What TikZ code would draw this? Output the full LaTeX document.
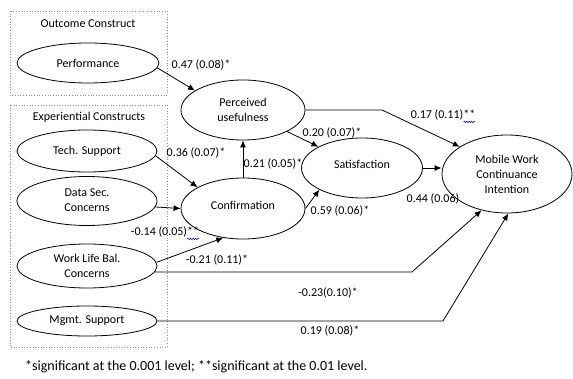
\documentclass[tikz,border=0pt]{standalone}
\usepackage{fontspec}
\setmainfont{Carlito}
\usetikzlibrary{shapes.geometric,arrows.meta,decorations.pathmorphing,calc}
\begin{document}
\begin{tikzpicture}[x=1pt,y=-1pt,
  ell/.style={draw, ellipse, inner sep=0pt, align=center, line width=0.8pt, font=\fontsize{12}{15}\selectfont},
  lbl/.style={inner sep=0pt, font=\fontsize{12}{15}\selectfont},
  arr/.style={line width=0.8pt, -{Latex[length=7pt,width=6pt]}},
  grp/.style={draw=black!45, dotted, line width=0.7pt},
  squig/.style={draw=blue!70!black, line width=0.5pt, decorate, decoration={snake, amplitude=0.8pt, segment length=2.5pt}}
]
\useasboundingbox (0,0) rectangle (573,379);

% group boxes
\draw[grp] (10,11) rectangle (167,95);
\draw[grp] (10,105) rectangle (167,347);
\node[lbl] (tout) at (88,24) {Outcome Construct};
\node[lbl] (texp) at (89,117) {Experiential Constructs};

% constructs
\node[ell, minimum width=142pt, minimum height=40pt] (perf) at (88,63) {Performance};
\node[ell, minimum width=140pt, minimum height=42pt] (tech) at (87,151) {\raisebox{2pt}{Tech. Support}};
\node[ell, minimum width=140pt, minimum height=49pt] (data) at (87,201) {\raisebox{-4pt}{\begin{tabular}{@{}c@{}}Data Sec.\\Concerns\end{tabular}}};
\node[ell, minimum width=140pt, minimum height=44pt] (work) at (87,266) {Work Life Bal.\\Concerns};
\node[ell, minimum width=140pt, minimum height=30pt] (mgmt) at (87,321) {Mgmt. Support};

\node[ell, minimum width=124pt, minimum height=60pt] (pu) at (243,110) {Perceived\\usefulness};
\node[ell, minimum width=124pt, minimum height=61pt] (conf) at (243,208.5) {\raisebox{7pt}{Confirmation}};
\node[ell, minimum width=121pt, minimum height=60pt] (sat) at (362,168) {\raisebox{7pt}{Satisfaction}};
\node[ell, minimum width=130pt, minimum height=78pt] (mob) at (507,174) {Mobile Work\\Continuance\\Intention};

% bend points
\coordinate (k1) at (412,0);
\coordinate (k2) at (443,0);
\coordinate (k3) at (382,0);

% connectors
\draw[arr] (perf.-4) -- (pu.158);
\draw[arr] (tech.-4) -- (conf.155);
\draw[arr] (data.-5) -- (conf.west);
\draw[arr] (work.3) -- (conf.236);
\draw[arr] (work.-5) -- (work.-5 -| k1) -- (mob.235);
\draw[arr] (mgmt.east) -- (mgmt.east -| k2) -- (mob.272);
\draw[arr] (pu.east) -- (pu.east -| k3) -- (mob.150);
\draw[arr] (pu.-26) -- (sat.154);
\draw[arr] (conf.north) -- (pu.south);
\draw[arr] (conf.east) -- (sat.207);
\draw[arr] (sat.east) -- (sat.east -| mob.west);

% path labels
\node[lbl] (l1) at (201,65) {0.47 (0.08)*};
\node[lbl] (l2) at (196,153) {0.36 (0.07)*};
\node[lbl] (l3) at (165,232) {-0.14 (0.05)**};
\node[lbl] (l4) at (217,260) {-0.21 (0.11)*};
\node[lbl] (l5) at (328,293) {-0.23(0.10)*};
\node[lbl] (l6) at (330,331) {0.19 (0.08)*};
\node[lbl] (l7) at (273,164) {0.21 (0.05)*};
\node[lbl] (l8) at (332,133) {0.20 (0.07)*};
\node[lbl] (l9) at (340,211) {0.59 (0.06)*};
\node[lbl] (l10) at (433,199) {0.44 (0.06)};
\node[lbl] (l11) at (443,115) {0.17 (0.11)**};

% spell-check squiggles
\draw[squig] ($(l11.south east)+(-12,1.5)$) -- ($(l11.south east)+(0,1.5)$);
\draw[squig] ($(l3.south east)+(-12,1.5)$) -- ($(l3.south east)+(0,1.5)$);

% footnote
\node[lbl, anchor=west, font=\fontsize{14}{17}\selectfont] (foot) at (25,367) {*significant at the 0.001 level; **significant at the 0.01 level.};
\end{tikzpicture}
\end{document}
